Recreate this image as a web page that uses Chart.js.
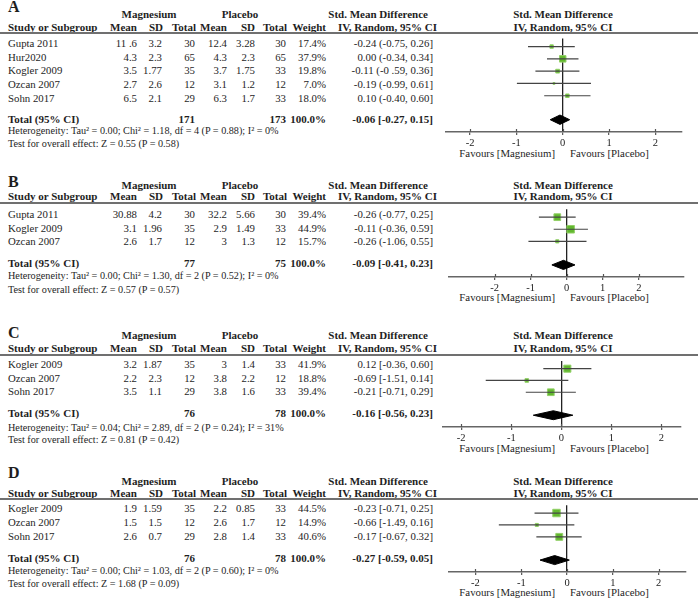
<!DOCTYPE html>
<html>
<head>
<meta charset="utf-8">
<script src="https://cdn.jsdelivr.net/npm/chart.js@4.4.0/dist/chart.umd.min.js"></script>
<style>
  body { margin: 0; background: #fff; }
  #page { position: relative; width: 700px; height: 600px; overflow: hidden; font-family: 'Liberation Serif', serif; color: #1e1e1e; }
  .t { position: absolute; white-space: nowrap; }
  .b { font-weight: bold; }
  .hr { position: absolute; left: 0; width: 698px; height: 2px; background: #707070; }
  canvas { position: absolute; }
</style>
</head>
<body>
<div id="page"></div>
<script>
// ---- A ----
const studiesA = ['Gupta 2011', 'Hur2020', 'Kogler 2009', 'Ozcan 2007', 'Sohn 2017'];
const magMeanA = ['11 .6', '4.3', '3.5', '2.7', '6.5'];
const magSdA = ['3.2', '2.3', '1.77', '2.6', '2.1'];
const magNA = [30, 65, 35, 12, 29];
const plaMeanA = ['12.4', '4.3', '3.7', '3.1', '6.3'];
const plaSdA = ['3.28', '2.3', '1.75', '1.2', '1.7'];
const plaNA = [30, 65, 33, 12, 33];
const weightA = [17.4, 37.9, 19.8, 7.0, 18.0];
const smdA = [-0.24, 0.00, -0.11, -0.19, 0.10];
const lowA = [-0.75, -0.34, -0.59, -0.99, -0.40];
const highA = [0.26, 0.34, 0.36, 0.61, 0.60];
const ciTextA = ['-0.24 (-0.75, 0.26]', '0.00 (-0.34, 0.34]', '-0.11 (-0 .59, 0.36]', '-0.19 (-0.99, 0.61]', '0.10 (-0.40, 0.60]'];
const totalsA = [171, 173, '100.0%'];
const pooledA = [-0.06, -0.27, 0.15];
const pooledTextA = '-0.06 [-0.27, 0.15]';
const hetA = 'Heterogeneity: Tau\u00b2 = 0.00; Chi\u00b2 = 1.18, df = 4 (P = 0.88); I\u00b2 = 0%';
const testA = 'Test for overall effect: Z = 0.55 (P = 0.58)';

// ---- B ----
const studiesB = ['Gupta 2011', 'Kogler 2009', 'Ozcan 2007'];
const magMeanB = ['30.88', '3.1', '2.6'];
const magSdB = ['4.2', '1.96', '1.7'];
const magNB = [30, 35, 12];
const plaMeanB = ['32.2', '2.9', '3'];
const plaSdB = ['5.66', '1.49', '1.3'];
const plaNB = [30, 33, 12];
const weightB = [39.4, 44.9, 15.7];
const smdB = [-0.26, 0.11, -0.26];   // box for Kogler sits right of zero in the plot
const lowB = [-0.77, -0.36, -1.06];
const highB = [0.25, 0.59, 0.55];
const ciTextB = ['-0.26 (-0.77, 0.25]', '-0.11 (-0.36, 0.59]', '-0.26 (-1.06, 0.55]'];
const totalsB = [77, 75, '100.0%'];
const pooledB = [-0.09, -0.41, 0.23];
const pooledTextB = '-0.09 [-0.41, 0.23]';
const hetB = 'Heterogeneity: Tau\u00b2 = 0.00; Chi\u00b2 = 1.30, df = 2 (P = 0.52); I\u00b2 = 0%';
const testB = 'Test for overall effect: Z = 0.57 (P = 0.57)';

// ---- C ----
const studiesC = ['Kogler 2009', 'Ozcan 2007', 'Sohn 2017'];
const magMeanC = ['3.2', '2.2', '3.5'];
const magSdC = ['1.87', '2.3', '1.1'];
const magNC = [35, 12, 29];
const plaMeanC = ['3', '3.8', '3.8'];
const plaSdC = ['1.4', '2.2', '1.6'];
const plaNC = [33, 12, 33];
const weightC = [41.9, 18.8, 39.4];
const smdC = [0.12, -0.69, -0.21];
const lowC = [-0.36, -1.51, -0.71];
const highC = [0.60, 0.14, 0.29];
const ciTextC = ['0.12 [-0.36, 0.60]', '-0.69 [-1.51, 0.14]', '-0.21 [-0.71, 0.29]'];
const totalsC = [76, 78, '100.0%'];
const pooledC = [-0.16, -0.56, 0.23];
const pooledTextC = '-0.16 [-0.56, 0.23]';
const hetC = 'Heterogeneity: Tau\u00b2 = 0.04; Chi\u00b2 = 2.89, df = 2 (P = 0.24); I\u00b2 = 31%';
const testC = 'Test for overall effect: Z = 0.81 (P = 0.42)';

// ---- D ----
const studiesD = ['Kogler 2009', 'Ozcan 2007', 'Sohn 2017'];
const magMeanD = ['1.9', '1.5', '2.6'];
const magSdD = ['1.59', '1.5', '0.7'];
const magND = [35, 12, 29];
const plaMeanD = ['2.2', '2.6', '2.8'];
const plaSdD = ['0.85', '1.7', '1.4'];
const plaND = [33, 12, 33];
const weightD = [44.5, 14.9, 40.6];
const smdD = [-0.23, -0.66, -0.17];
const lowD = [-0.71, -1.49, -0.67];
const highD = [0.25, 0.16, 0.32];
const ciTextD = ['-0.23 [-0.71, 0.25]', '-0.66 [-1.49, 0.16]', '-0.17 [-0.67, 0.32]'];
const totalsD = [76, 78, '100.0%'];
const pooledD = [-0.27, -0.59, 0.05];
const pooledTextD = '-0.27 [-0.59, 0.05]';
const hetD = 'Heterogeneity: Tau\u00b2 = 0.00; Chi\u00b2 = 1.03, df = 2 (P = 0.60); I\u00b2 = 0%';
const testD = 'Test for overall effect: Z = 1.68 (P = 0.09)';

const tickValues = [-2, -1, 0, 1, 2];
const favourLabels = ['Favours [Magnesium]', 'Favours [Placebo]'];

const panels = [
  { letter: 'A', studies: studiesA, magMean: magMeanA, magSd: magSdA, magN: magNA, plaMean: plaMeanA, plaSd: plaSdA, plaN: plaNA,
    weight: weightA, smd: smdA, low: lowA, high: highA, ciText: ciTextA, totals: totalsA, pooled: pooledA, pooledText: pooledTextA, het: hetA, test: testA,
    lay: { letterY: 12.3, groupY: 18, headY: 31, lineY: 33, rowY: [46.8, 60.8, 74.2, 88.2, 101.8], totalY: 123.5, hetY: 134.5, testY: 147.5,
           axisY: 132.3, favY: 157, left: 440, right: 687, zero: 562.7, unit: 48.5 } },
  { letter: 'B', studies: studiesB, magMean: magMeanB, magSd: magSdB, magN: magNB, plaMean: plaMeanB, plaSd: plaSdB, plaN: plaNB,
    weight: weightB, smd: smdB, low: lowB, high: highB, ciText: ciTextB, totals: totalsB, pooled: pooledB, pooledText: pooledTextB, het: hetB, test: testB,
    lay: { letterY: 187.3, groupY: 189, headY: 200.5, lineY: 202.7, rowY: [218.5, 231.8, 245], totalY: 267, hetY: 280, testY: 294,
           axisY: 276.7, favY: 301, left: 442, right: 690, zero: 566.7, unit: 38 } },
  { letter: 'C', studies: studiesC, magMean: magMeanC, magSd: magSdC, magN: magNC, plaMean: plaMeanC, plaSd: plaSdC, plaN: plaNC,
    weight: weightC, smd: smdC, low: lowC, high: highC, ciText: ciTextC, totals: totalsC, pooled: pooledC, pooledText: pooledTextC, het: hetC, test: testC,
    lay: { letterY: 338.3, groupY: 339.5, headY: 352.5, lineY: 355, rowY: [368.3, 381.7, 395.2], totalY: 417, hetY: 431.5, testY: 444,
           axisY: 427.3, favY: 452.5, left: 437, right: 687, zero: 561.3, unit: 52.6 } },
  { letter: 'D', studies: studiesD, magMean: magMeanD, magSd: magSdD, magN: magND, plaMean: plaMeanD, plaSd: plaSdD, plaN: plaND,
    weight: weightD, smd: smdD, low: lowD, high: highD, ciText: ciTextD, totals: totalsD, pooled: pooledD, pooledText: pooledTextD, het: hetD, test: testD,
    lay: { letterY: 478.3, groupY: 485, headY: 497, lineY: 499, rowY: [512.5, 526.5, 539.8], totalY: 562, hetY: 575, testY: 588,
           axisY: 571.7, favY: 596, left: 443, right: 692, zero: 567, unit: 48.2 } }
];

const page = document.getElementById('page');

// place a text by its baseline
function put(text, x, base, align, bold, size) {
  const fs = size || (bold ? 11 : 10.8);
  const el = document.createElement('div');
  el.className = 't' + (bold ? ' b' : '');
  el.textContent = text;
  el.style.fontSize = fs + 'px';
  el.style.lineHeight = fs + 'px';
  el.style.top = (base - 0.8375 * fs) + 'px';
  if (align === 'right') {
    el.style.left = (x - 400) + 'px'; el.style.width = '400px'; el.style.textAlign = 'right';
  } else if (align === 'center') {
    el.style.left = (x - 200) + 'px'; el.style.width = '400px'; el.style.textAlign = 'center';
  } else {
    el.style.left = x + 'px';
  }
  page.appendChild(el);
}

// column right edges
const col = { magMean: 137, magSd: 162, magN: 195, plaMean: 227, plaSd: 255, plaN: 286, weight: 326, ci: 433 };

// little tick marks poking above the axis line
const tickCross = {
  id: 'tickCross',
  afterDraw(chart) {
    const s = chart.scales.x, c = chart.ctx, y = chart.chartArea.bottom;
    c.save();
    c.strokeStyle = '#555';
    c.lineWidth = 1.2;
    s.ticks.forEach(t => {
      const x = Math.round(s.getPixelForValue(t.value)) + 0.5;
      c.beginPath(); c.moveTo(x, y - 3); c.lineTo(x, y); c.stroke();
    });
    c.restore();
  }
};

panels.forEach(p => {
  const L = p.lay;

  // table
  put(p.letter, 8, L.letterY, 'left', true, 16);
  put('Magnesium', 149, L.groupY, 'center', true);
  put('Placebo', 240, L.groupY, 'center', true);
  put('Std. Mean Difference', 428, L.groupY, 'right', true);
  put('Std. Mean Difference', 563, L.groupY, 'center', true);

  put('Study or Subgroup', 8, L.headY, 'left', true);
  put('Mean', 137, L.headY, 'right', true);
  put('SD', 163, L.headY, 'right', true);
  put('Total', 196, L.headY, 'right', true);
  put('Mean', 227, L.headY, 'right', true);
  put('SD', 255, L.headY, 'right', true);
  put('Total', 287, L.headY, 'right', true);
  put('Weight', 326, L.headY, 'right', true);
  put('IV, Random, 95% CI', 437, L.headY, 'right', true);
  put('IV, Random, 95% CI', 563, L.headY, 'center', true);

  const hr = document.createElement('div');
  hr.className = 'hr';
  hr.style.top = (L.lineY - 1) + 'px';
  page.appendChild(hr);

  p.studies.forEach((s, i) => {
    const y = L.rowY[i];
    put(s, 8, y, 'left');
    put(p.magMean[i], col.magMean, y, 'right');
    put(p.magSd[i], col.magSd, y, 'right');
    put(String(p.magN[i]), col.magN, y, 'right');
    put(p.plaMean[i], col.plaMean, y, 'right');
    put(p.plaSd[i], col.plaSd, y, 'right');
    put(String(p.plaN[i]), col.plaN, y, 'right');
    put(p.weight[i].toFixed(1) + '%', col.weight, y, 'right');
    put(p.ciText[i], col.ci, y, 'right');
  });

  put('Total (95% CI)', 8, L.totalY, 'left', true);
  put(String(p.totals[0]), col.magN, L.totalY, 'right', true);
  put(String(p.totals[1]), col.plaN, L.totalY, 'right', true);
  put(p.totals[2], col.weight, L.totalY, 'right', true);
  put(p.pooledText, col.ci, L.totalY, 'right', true);
  put(p.het, 8, L.hetY, 'left', false, 10.2);
  put(p.test, 8, L.testY, 'left', false, 10.2);

  put(favourLabels[0], 555, L.favY, 'right');
  put(favourLabels[1], 570, L.favY, 'left');

  // forest plot
  const n = p.studies.length;
  const totalRow = n + 0.95;
  const top = Math.round(L.lineY);
  const areaH = Math.round(L.axisY) - top;
  const w = L.right - L.left;
  const canvas = document.createElement('canvas');
  canvas.width = w;
  canvas.height = areaH + 20;
  canvas.style.left = L.left + 'px';
  canvas.style.top = top + 'px';
  page.appendChild(canvas);

  const ciSets = p.smd.map((e, i) => ({
    type: 'line',
    data: [{ x: p.low[i], y: i }, { x: p.high[i], y: i }],
    borderColor: '#444',
    borderWidth: 1.2,
    pointRadius: 0,
    fill: false
  }));

  const boxes = {
    type: 'scatter',
    data: p.smd.map((e, i) => ({ x: e, y: i })),
    pointStyle: 'rect',
    pointRadius: p.weight.map(v => (0.15 * v + 0.8) / 1.414),
    pointBackgroundColor: '#62b82f',
    pointBorderColor: '#93d068',
    pointBorderWidth: 1
  };

  const [est, lo, hi] = p.pooled;
  const diamond = {
    type: 'line',
    data: [
      { x: lo, y: totalRow }, { x: est, y: totalRow - 0.38 }, { x: hi, y: totalRow },
      { x: est, y: totalRow + 0.38 }, { x: lo, y: totalRow }
    ],
    fill: 'shape',
    backgroundColor: '#000',
    borderColor: '#000',
    borderWidth: 1,
    pointRadius: 0,
    tension: 0
  };

  new Chart(canvas.getContext('2d'), {
    type: 'scatter',
    data: { datasets: [...ciSets, boxes, diamond] },
    options: {
      responsive: false,
      animation: false,
      events: [],
      layout: { padding: 0 },
      plugins: { legend: { display: false }, tooltip: { enabled: false } },
      scales: {
        x: {
          type: 'linear',
          min: (L.left - L.zero) / L.unit,
          max: (L.right - L.zero) / L.unit,
          afterBuildTicks: s => { s.ticks = tickValues.map(v => ({ value: v })); },
          afterFit: s => { s.height = 20; s.paddingLeft = 0; s.paddingRight = 0; },
          border: { display: true, color: '#666', width: 1.6 },
          grid: {
            drawOnChartArea: true,
            color: ctx => (ctx.tick && ctx.tick.value === 0 ? '#222' : 'rgba(0,0,0,0)'),
            lineWidth: 1.3,
            tickColor: '#555',
            tickLength: 3,
            tickWidth: 1.2
          },
          ticks: {
            padding: 2,
            color: '#222',
            font: { family: 'Liberation Serif', size: 10.5 },
            callback: v => String(v)
          }
        },
        y: {
          type: 'linear',
          display: false,
          reverse: true,
          min: -0.65,
          max: n + 1.95
        }
      }
    },
    plugins: [tickCross]
  });
});
</script>
</body>
</html>
